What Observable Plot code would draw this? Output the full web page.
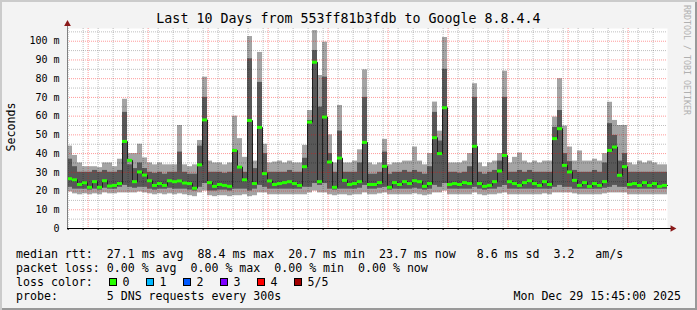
<!DOCTYPE html>
<html><head><meta charset="utf-8">
<script src="https://cdn.jsdelivr.net/npm/d3@7"></script>
<script src="https://cdn.jsdelivr.net/npm/@observablehq/plot@0.6"></script>
<style>
html,body{margin:0;padding:0;background:#f3f3f3;overflow:hidden;}
#wrap{position:relative;width:697px;height:310px;background:#f3f3f3;box-shadow:inset 2px 2px 0 #cbcbcb, inset -2px -2px 0 #999;overflow:hidden;font-family:"DejaVu Sans Mono",monospace;color:#000;}
#wrap svg{position:absolute;left:0;top:0;}
.t{position:absolute;white-space:pre;line-height:14px;font-size:11.6px;}
.box{position:absolute;width:6px;height:6px;border:1px solid #000;}
#title{position:absolute;left:0;width:697px;top:11.4px;text-align:center;font-size:13.3px;line-height:16px;white-space:pre;}
#rrd{position:absolute;left:682px;top:5px;writing-mode:vertical-rl;font-size:8.3px;line-height:10px;color:#b0b0b0;white-space:pre;}
</style></head><body>
<div id="wrap">
  <div id="title">Last 10 Days from 553ff81b3fdb to Google 8.8.4.4</div>
  <div id="rrd">RRDTOOL / TOBI OETIKER</div>
  <div class="t" style="left:16px;top:246.5px">median rtt:  27.1 ms avg  88.4 ms max  20.7 ms min  23.7 ms now   8.6 ms sd  3.2   am/s</div>
  <div class="t" style="left:16px;top:260.5px">packet loss: 0.00 % avg  0.00 % max  0.00 % min  0.00 % now</div>
  <div class="t" style="left:16px;top:274.5px">loss color:</div>
  <div id="legend"></div>
  <div class="t" style="left:16px;top:288.5px">probe:       5 DNS requests every 300s</div>
  <div class="t" style="right:16px;top:288.5px">Mon Dec 29 15:45:00 2025</div>
</div>
<script>
// smoke data: 2-hour columns, ms
const lo = [19.5,18.5,18,18.5,18,18.5,18,19,18.5,18.5,
  19,19,19,19,19.5,19,18.5,18,18.5,18,
  18.5,18,18.5,18,17.5,17,19,20,17.5,17,
  17.5,17.5,17,17.5,17.5,18,17,17.5,19,19,
  18,18,18,18,18,18,18,18,19,20,
  19,19,18,17.5,18,18,17.5,18,18,19,
  18,18,18.5,19,18,18,18,18,18,18.5,
  18,17.5,18,19,19,20,18,18,18,18,
  18,19,18,17.5,18,18,18.5,19,18,18,
  18,18,18,18,18,18.5,18,19,19,19,
  19,18.5,18,18,18,18,18,18.5,19,19,
  19,19,18,18,18,18,18,18,18,18];
const q1 = [22,21,21,21,20.5,21,20.5,21.5,21,21,
  22,23,22,21.5,22,22,21,20.5,21,21,
  21.5,21,21,21,20.5,20,22,24,20,20,
  20.5,20.5,20,21,21,21,20,21,23,22,
  21,21,21,21,21,21,21,22,22,24,
  23,24,21,20.5,21,21,21,21,21.5,23,
  21,21,21.5,22,20.5,21,21,21,21,21.5,
  21,20.5,21,23,22,24,21,21,21,21,
  21,22,21,20.5,21,21,22,23,21,21,
  21,21,21,21,21,21,21,22,23,22,
  22,21,21,21,21,21,21,21.5,22,23,
  22,22,21,21,21,21,21,21,21,21];
const med = [26.6,26,23.5,24.4,22,25,22,25.5,22.7,23,
  24,46.5,36.4,25,30.2,28.5,25.5,23,24,23,
  25.5,25,25.4,24.3,24,21.5,34,58,24.5,22.5,
  23.5,23,22.5,41.7,32.8,26,57.7,24,54,29.3,
  25.4,23.5,24,24.5,25,24,23,33,56.8,88.8,
  25,59.5,35.5,22,37.6,25.7,23.5,24,25,46,
  23.5,23.5,24.5,33.2,22,24.5,23.5,25,24,25.5,
  25,22.5,24,48.5,40,64.5,23.5,24,23.5,24.5,
  24,43.9,24,22.5,23,25,30.7,39,25,24,
  23,24.5,25.5,24,23,25,23.5,48,53.3,33.7,
  30.2,25.7,23,24.5,22.5,24,23,25,41.7,43.5,
  28.4,33,23.5,24,23,24.5,23,24,22.5,23];
const q3 = [37,33,30,30,30,31,30,31,30,30,
  31,62,34,32,35,32,30,29.5,30,29,
  30,30,40.8,30,29,29,44,70,30,30,
  30,29.5,30,42,33,30,90.6,32,78,40,
  30,30,30,30,31,30,30,37.5,57.7,95,
  64.8,80.8,40,30,52,30,30,30,35,70,
  29,29,30,40.8,29,30,30,31,30,31,
  30,29,33,62,46.7,85,30,30,29.5,30,
  33,70,30,29,30,31,36,70,30,30,
  31,30,31,30,30,30,30,54,63,40,
  35.7,31,30,30,30,31,30,35,56,49.7,
  36,40,30,30,30,30,30,30,30,30];
const hi = [44,39,35,33,33,33,32.5,35,35,33,
  37,69,40,40,45,37.7,35,34,35,34,
  34,34,55,34,33,34,47,80.8,36,35,
  35,34,35,60,48,38,102.5,36,94,45,
  35,35.5,36,35,36,35,35,44.4,63,105.7,
  81.7,99.5,50,35,65.7,35,35,36,42,84.7,
  35,34,35,47.6,34,35,35,36,36,43.5,
  36,34,40,67.5,52,102,35,35,35,36,
  40,77.3,35,33,35,36,40,84,35,38,
  40.3,36,35,36,35,36,36,59.5,80,54.7,
  43.5,36,41.4,36,36,37,36,40,67.4,57.7,
  55,55,35,34,36,35,36,35,34,34];

const yTickValues = [0,10,20,30,40,50,60,70,80,90,100];
const yTickLabels = ["0","10 m","20 m","30 m","40 m","50 m","60 m","70 m","80 m","90 m","100 m"];
const xTickLabels = ["20 Dec","21 Dec","22 Dec","23 Dec","24 Dec","25 Dec","26 Dec","27 Dec","28 Dec","29 Dec"];
const lossLabels = ["0","1","2","3","4","5/5"];
const lossColors = ["#26ff00","#00b8ff","#0059ff","#7e00ff","#ff0000","#a10000"];

const start = Date.UTC(2025, 11, 19, 15, 45);
const end = Date.UTC(2025, 11, 29, 15, 45);
const stepMs = 2 * 3600e3;
const yMax = 106.8;
const plotH = 200, plotW = 600;
const pxPerUnit = plotH / yMax;
const msPerPx = (end - start) / plotW;

const rows = med.map((m, i) => ({
  x1: new Date(start + i * stepMs), x2: new Date(start + (i + 1) * stepMs),
  lo: lo[i], q1: q1[i], med: m, q3: q3[i], hi: hi[i]
}));
const steps = rows.flatMap(r => [{t: r.x1, v: r.med}, {t: r.x2, v: r.med}]);

const midnights = d3.utcDays(new Date(start), new Date(end));
const sixHours = d3.utcHours(new Date(start), new Date(end), 6);
const minorTimes = sixHours.filter(d => d.getUTCHours() !== 0);
const noons = sixHours.filter(d => d.getUTCHours() === 12);
const noonLabel = new Map(noons.map((d, i) => [+d, xTickLabels[i]]));
const yMajor = d3.range(10, yMax, 10);
const yMinor = d3.range(5, yMax, 10);

const arrowY = yMax + 4.5 / pxPerUnit;
const gridDash = "1,1";

const chart = Plot.plot({
  width: 697, height: 310,
  marginLeft: 67, marginRight: 30, marginTop: 28, marginBottom: 82,
  style: {background: "transparent", fontFamily: "'DejaVu Sans Mono', monospace", fontSize: "10px", color: "#000", overflow: "visible"},
  x: {type: "utc", domain: [new Date(start), new Date(end)]},
  y: {domain: [0, yMax]},
  marks: [
    Plot.frame({fill: "white", stroke: null}),
    Plot.rectY(rows, {x1: "x1", x2: "x2", y1: "lo", y2: "hi", fill: "#a4a4a4"}),
    Plot.rectY(rows, {x1: "x1", x2: "x2", y1: "q1", y2: "q3", fill: "#585858"}),
    Plot.ruleY(yMinor, {stroke: "#000", strokeOpacity: 0.25, strokeDasharray: gridDash}),
    Plot.ruleX(minorTimes, {stroke: "#000", strokeOpacity: 0.25, strokeDasharray: gridDash}),
    Plot.ruleY(yMajor, {stroke: "#ff0000", strokeOpacity: 0.4, strokeDasharray: gridDash}),
    Plot.ruleX(midnights, {stroke: "#ff0000", strokeOpacity: 0.4, strokeDasharray: gridDash}),
    Plot.line(steps, {x: "t", y: "v", stroke: "#202020", strokeWidth: 1}),
    Plot.ruleY(rows, {x1: "x1", x2: "x2", y: "med", stroke: lossColors[0], strokeWidth: 3}),
    Plot.axisY(yTickValues, {tickSize: 0, tickPadding: 8, label: null,
      tickFormat: d => yTickLabels[yTickValues.indexOf(d)]}),
    Plot.axisX(noons, {tickSize: 0, tickPadding: 4, label: null,
      tickFormat: d => noonLabel.get(+d)}),
    Plot.ruleX(sixHours, {y1: 0, y2: -2 / pxPerUnit, stroke: "#000"}),
    Plot.ruleX([new Date(start)], {y1: 0, y2: arrowY, stroke: "#808080"}),
    Plot.ruleY([0], {x1: new Date(start), x2: new Date(end + 4 * msPerPx), stroke: "#000"}),
    Plot.dot([{t: new Date(start), v: arrowY}], {x: "t", y: "v", symbol: "triangle", r: 2.5, fill: "#8b1a1a", stroke: null}),
    Plot.dot([{t: new Date(end + 5 * msPerPx), v: 0}], {x: "t", y: "v", symbol: "triangle", r: 2.5, fill: "#8b1a1a", stroke: null, rotate: 90}),
    Plot.text(["Seconds"], {frameAnchor: "left", rotate: -90, dx: -56.5, dy: -1.5, fontSize: 11.6, textAnchor: "middle", lineAnchor: "middle"})
  ]
});
document.getElementById("wrap").prepend(chart);

// loss color legend
const boxLeft = [108.5, 145.5, 182.5, 219.5, 256.5, 293.5];
const legend = document.getElementById("legend");
lossLabels.forEach((lab, i) => {
  const b = document.createElement("div");
  b.className = "box";
  b.style.left = boxLeft[i] + "px";
  b.style.top = "277.5px";
  b.style.background = lossColors[i];
  legend.appendChild(b);
  const t = document.createElement("div");
  t.className = "t";
  t.style.left = (boxLeft[i] + 14) + "px";
  t.style.top = "274.5px";
  t.textContent = lab;
  legend.appendChild(t);
});
</script>
</body></html>
